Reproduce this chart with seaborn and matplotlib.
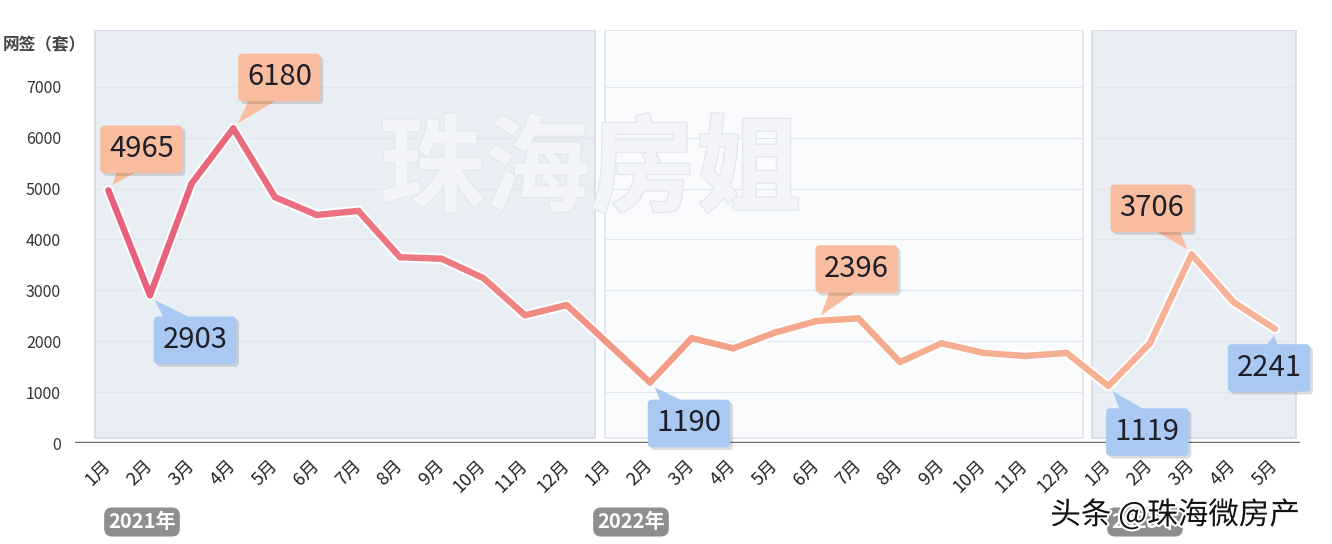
import numpy as np
import pandas as pd
import seaborn as sns
import matplotlib
matplotlib.use("Agg")
import matplotlib.pyplot as plt
from matplotlib.collections import LineCollection
from matplotlib.colors import LinearSegmentedColormap
from matplotlib.patches import Rectangle
import matplotlib.patheffects as pe

# ---------------- data ----------------
years = ["2021年", "2022年", "2023年"]
months_2021 = ["1月", "2月", "3月", "4月", "5月", "6月", "7月", "8月", "9月", "10月", "11月", "12月"]
months_2022 = ["1月", "2月", "3月", "4月", "5月", "6月", "7月", "8月", "9月", "10月", "11月", "12月"]
months_2023 = ["1月", "2月", "3月", "4月", "5月"]
values_2021 = [4965, 2903, 5100, 6180, 4830, 4480, 4560, 3650, 3620, 3240, 2510, 2710]
values_2022 = [1950, 1190, 2060, 1860, 2170, 2396, 2450, 1590, 1960, 1770, 1710, 1770]
values_2023 = [1119, 1960, 3706, 2770, 2241]
y_ticks = [0, 1000, 2000, 3000, 4000, 5000, 6000, 7000]
y_title = "网签（套）"
# callouts: (global index, kind)
callout_idx = [0, 1, 3, 13, 17, 24, 26, 28]
callout_kind = ["high", "low", "high", "low", "high", "low", "high", "low"]

labels = months_2021 + months_2022 + months_2023
values = values_2021 + values_2022 + values_2023
df = pd.DataFrame({"i": np.arange(len(values)), "v": values, "m": labels})

# ---------------- style ----------------
sns.set_theme(style="white")
plt.rcParams["font.family"] = ["Noto Sans CJK SC", "DejaVu Sans"]

fig = plt.figure(figsize=(13.32, 5.44), dpi=100)
ax = fig.add_axes([75 / 1332, (544 - 443) / 544, 1225 / 1332, 413 / 544])
ax.set_xlim(-0.8, 28.6)
ax.set_ylim(0, 8114)

# background panels
panels = [(-0.31, 11.68, "#e9eef5", "#d3dae4"),
          (11.92, 23.38, "#fafbfd", "#e0e5ec"),
          (23.6, 28.5, "#e9eef5", "#d3dae4")]
for x0, x1, fc, ec in panels:
    ax.add_patch(Rectangle((x0, 100), x1 - x0, 8014, facecolor=fc, edgecolor=ec,
                           lw=1.2, zorder=0))
    for yt in y_ticks[1:]:
        ax.plot([x0, x1], [yt, yt], color="#e1e6ed", lw=0.8, zorder=0.5)

# watermark
ax.text(590 / 1332, 1 - 172 / 544, "珠海房姐", transform=fig.transFigure, fontsize=76,
        fontweight="bold", color="#f3f5f8", ha="center", va="center", zorder=1,
        path_effects=[pe.withStroke(linewidth=2, foreground="#e4e8ee")])

# line: white outline via seaborn, then gradient overlay
sns.lineplot(data=df, x="i", y="v", ax=ax, color="white", lw=7.5, zorder=2,
             solid_joinstyle="round", solid_capstyle="round")
line = ax.lines[-1]
xd, yd = line.get_xdata(), line.get_ydata()
pts = np.column_stack([xd, yd]).reshape(-1, 1, 2)
segs = np.concatenate([pts[:-1], pts[1:]], axis=1)
cmap = LinearSegmentedColormap.from_list(
    "g", [(0, "#e8607c"), (0.3, "#ec7d82"), (0.45, "#f29a85"), (0.6, "#f5a98b"), (1, "#f7b398")])
lc = LineCollection(segs, cmap=cmap, lw=4.6, capstyle="round", joinstyle="round", zorder=3)
lc.set_array(np.linspace(0, 1, len(segs)))
ax.add_collection(lc)

# axis styling
for s in ax.spines.values():
    s.set_visible(False)
ax.axhline(0, color="#6e6e6e", lw=2.5, zorder=4)
ax.set_yticks(y_ticks)
ax.set_yticklabels([str(t) for t in y_ticks], fontsize=11.5, color="#333333")
ax.tick_params(axis="y", length=0, pad=10)
ax.set_xticks(df["i"])
ax.set_xticklabels(df["m"], rotation=45, ha="right", va="center",
                   rotation_mode="anchor", fontsize=13, color="#222222")
ax.tick_params(axis="x", length=0, pad=14)
ax.set_xlabel("")
ax.set_ylabel("")
ax.grid(False)

fig.text(3 / 1332, 1 - 45 / 544, y_title, fontsize=12, color="#444444",
         fontweight="bold", va="center", ha="left")

# callouts
offsets = {0: (33, 41), 1: (45, -45), 3: (46, 51), 13: (39, -41),
           17: (40, 52), 24: (39, -46), 26: (-40, 46), 28: (-6, -39)}
colors = {"high": "#f7bd9e", "low": "#a9c9f3"}
for gi, kind in zip(callout_idx, callout_kind):
    v = values[gi]
    c = colors[kind]
    t = ax.annotate(str(v), xy=(gi, v), xytext=offsets[gi], textcoords="offset pixels",
                    ha="center", va="center", fontsize=21, color="#1f1f2a", zorder=6,
                    bbox=dict(boxstyle="round,pad=0.3,rounding_size=0.15", fc=c, ec="none"),
                    arrowprops=dict(arrowstyle="wedge,tail_width=1.3,shrink_factor=0.5",
                                    fc=c, ec="none", shrinkA=0, shrinkB=5, patchA=None))
    t.get_bbox_patch().set_path_effects([pe.SimplePatchShadow(offset=(2, -2), alpha=0.18),
                                         pe.Normal()])

# year labels
for xpx, yr in [(142, years[0]), (631, years[1]), (1145, years[2])]:
    fig.text(xpx / 1332, 1 - 522 / 544, yr, fontsize=14.5, fontweight="bold", color="white",
             ha="center", va="center",
             bbox=dict(boxstyle="round,pad=0.2,rounding_size=0.4", fc="#8e8e8e", ec="none"))

# platform watermark
fig.text(1175 / 1332, 1 - 515 / 544, "头条 @珠海微房产", fontsize=22, color="#111111",
         ha="center", va="center",
         path_effects=[pe.withStroke(linewidth=3, foreground="white")])

fig.savefig("out.png", dpi=100, facecolor="white")
